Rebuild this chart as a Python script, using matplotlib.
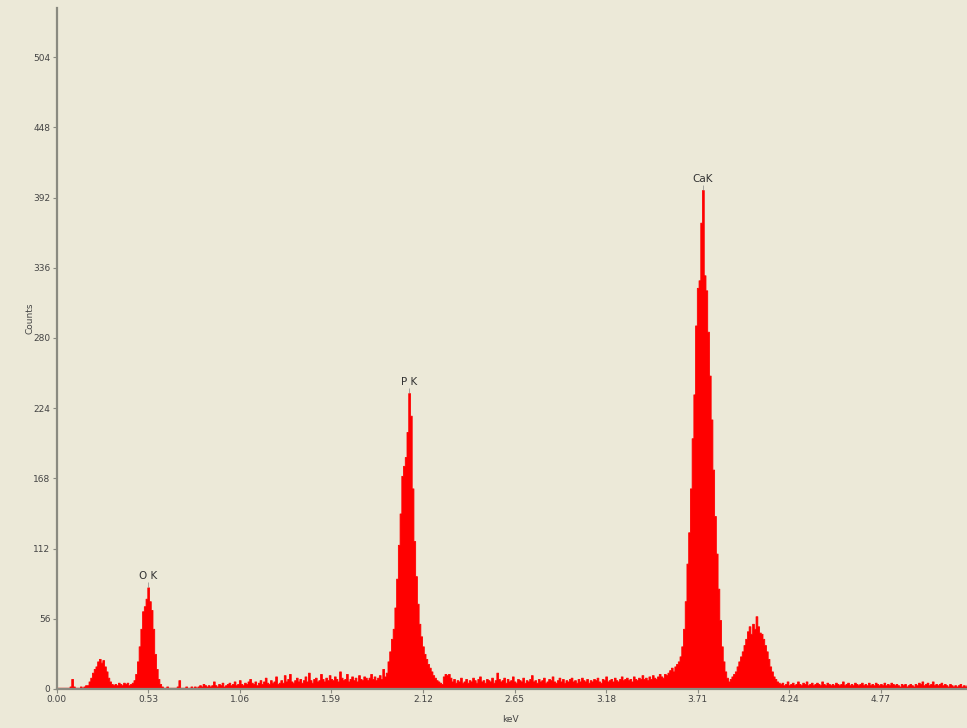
import numpy as np
import matplotlib
matplotlib.use("Agg")
import matplotlib.pyplot as plt

# Спектр ЕДС: відліки по каналах шириною 0.01 кеВ, починаючи з 0.00 кеВ
channel_start = 0.0
channel_width = 0.01
counts = [
    1, 1, 1, 1, 1, 1, 1, 1, 2, 8,            # 0.00
    2, 1, 1, 1, 2, 1, 2, 3, 3, 6,            # 0.10
    9, 13, 16, 18, 22, 24, 21, 23, 18, 14,   # 0.20
    9, 6, 4, 3, 4, 3, 5, 4, 3, 5,            # 0.30
    4, 5, 3, 4, 5, 7, 12, 22, 34, 48,        # 0.40
    62, 66, 72, 81, 70, 63, 48, 28, 16, 8,   # 0.50
    4, 2, 1, 1, 2, 1, 1, 1, 1, 1,            # 0.60
    2, 7, 1, 1, 1, 2, 1, 1, 2, 1,            # 0.70
    2, 1, 2, 3, 2, 4, 3, 2, 3, 2,            # 0.80
    3, 6, 3, 2, 4, 3, 5, 2, 3, 4,            # 0.90
    5, 3, 4, 6, 3, 4, 7, 4, 3, 5,            # 1.00
    4, 6, 8, 5, 4, 6, 3, 5, 7, 4,            # 1.10
    6, 9, 5, 4, 7, 5, 6, 10, 4, 5,           # 1.20
    7, 5, 11, 6, 8, 12, 6, 5, 7, 9,          # 1.30
    6, 8, 5, 7, 10, 6, 13, 7, 5, 8,          # 1.40
    9, 6, 7, 12, 8, 6, 9, 7, 11, 8,          # 1.50
    7, 10, 8, 6, 14, 9, 7, 8, 12, 6,         # 1.60
    8, 10, 7, 9, 6, 11, 8, 7, 10, 9,         # 1.70
    7, 9, 12, 8, 10, 7, 9, 11, 8, 16,        # 1.80
    10, 13, 22, 30, 40, 48, 65, 88, 115, 140,        # 1.90
    170, 178, 185, 205, 236, 218, 160, 118, 90, 68,  # 2.00
    52, 42, 34, 28, 24, 20, 17, 14, 11, 9,   # 2.10
    7, 6, 5, 4, 10, 12, 11, 12, 9, 6,        # 2.20
    8, 5, 7, 6, 9, 5, 6, 8, 5, 7,            # 2.30
    6, 9, 7, 5, 8, 10, 6, 7, 5, 8,           # 2.40
    7, 6, 9, 5, 7, 13, 8, 6, 7, 9,           # 2.50
    5, 8, 6, 7, 10, 6, 5, 8, 7, 6,           # 2.60
    9, 5, 7, 6, 8, 11, 6, 7, 5, 8,           # 2.70
    6, 7, 9, 5, 6, 8, 7, 10, 6, 5,           # 2.80
    7, 9, 6, 8, 5, 7, 6, 8, 9, 6,            # 2.90
    7, 5, 8, 6, 9, 7, 6, 8, 5, 7,            # 3.00
    6, 8, 7, 9, 6, 5, 8, 7, 10, 6,           # 3.10
    7, 8, 6, 9, 7, 6, 8, 10, 7, 8,           # 3.20
    9, 7, 8, 6, 10, 8, 7, 9, 8, 11,          # 3.30
    8, 9, 7, 10, 8, 11, 9, 8, 10, 12,        # 3.40
    10, 9, 12, 11, 13, 15, 17, 14, 18, 20,   # 3.50
    22, 26, 34, 48, 70, 100, 125, 160, 200, 235,     # 3.60
    290, 320, 326, 372, 398, 330, 318, 285, 250, 215,  # 3.70
    175, 138, 108, 80, 55, 34, 22, 14, 9, 6,  # 3.80
    8, 10, 12, 14, 18, 22, 26, 30, 35, 40,   # 3.90
    46, 50, 44, 52, 48, 58, 50, 45, 44, 40,  # 4.00
    35, 30, 24, 18, 14, 10, 8, 6, 5, 4,      # 4.10
    5, 3, 4, 6, 3, 4, 5, 3, 4, 6,            # 4.20
    4, 3, 5, 4, 6, 3, 4, 5, 3, 4,            # 4.30
    5, 4, 3, 6, 4, 3, 5, 4, 3, 4,            # 4.40
    3, 5, 4, 3, 4, 6, 3, 4, 5, 3,            # 4.50
    4, 3, 5, 4, 3, 4, 5, 3, 4, 3,            # 4.60
    5, 3, 4, 3, 5, 4, 3, 4, 3, 5,            # 4.70
    3, 4, 3, 5, 4, 3, 4, 3, 2, 4,            # 4.80
    3, 4, 2, 3, 4, 3, 2, 4, 3, 5,            # 4.90
    4, 6, 3, 4, 5, 3, 4, 6, 3, 4,            # 5.00
    3, 4, 5, 3, 4, 3, 2, 4, 3, 2,            # 5.10
    3, 2, 3, 4, 2, 3, 2, 3,                  # 5.20
]

# Підписи ліній елементів та їх положення (кеВ)
peak_names = ["O K", "P K", "CaK"]
peak_energies = [0.53, 2.04, 3.74]

x_ticks = [0.00, 0.53, 1.06, 1.59, 2.12, 2.65, 3.18, 3.71, 4.24, 4.77]
y_ticks = [0, 56, 112, 168, 224, 280, 336, 392, 448, 504]

bg = "#ECE9D8"
axis_col = "#8a8a80"
text_col = "#444444"

energy = channel_start + channel_width * np.arange(len(counts))
counts = np.array(counts)

fig = plt.figure(figsize=(9.67, 7.28), dpi=100, facecolor=bg)
ax = fig.add_axes([0.0585, 0.0536, 0.94, 0.935], facecolor=bg)

ax.fill_between(energy, counts, step="mid", facecolor="#FF0000",
                edgecolor="#FF0000", linewidth=0.6)

ax.set_xlim(0, 5.26)
ax.set_ylim(0, 543)

ax.set_xticks(x_ticks)
ax.set_xticklabels([f"{t:.2f}" for t in x_ticks])
ax.set_yticks(y_ticks)
ax.set_yticklabels([str(t) for t in y_ticks])
ax.tick_params(axis="both", direction="out", length=3, width=0.8,
               color=axis_col, labelsize=6.5, labelcolor=text_col, pad=1.5)

for side in ["top", "right"]:
    ax.spines[side].set_visible(False)
for side in ["left", "bottom"]:
    ax.spines[side].set_color(axis_col)
    ax.spines[side].set_linewidth(1.6)

# Позначки піків
for name, e in zip(peak_names, peak_energies):
    idx = int(round((e - channel_start) / channel_width))
    top = counts[idx]
    ax.vlines(e, top, top + 4, color="#888888", linewidth=0.5)
    ax.text(e, top + 5, name, ha="center", va="bottom",
            fontsize=7.5, color="#333333")

fig.text(0.031, 0.563, "Counts", rotation=90, ha="center", va="center",
         fontsize=6.5, color=text_col)
fig.text(0.528, 0.012, "keV", ha="center", va="center",
         fontsize=6.5, color=text_col)

fig.savefig("out.png", dpi=100, facecolor=bg)
